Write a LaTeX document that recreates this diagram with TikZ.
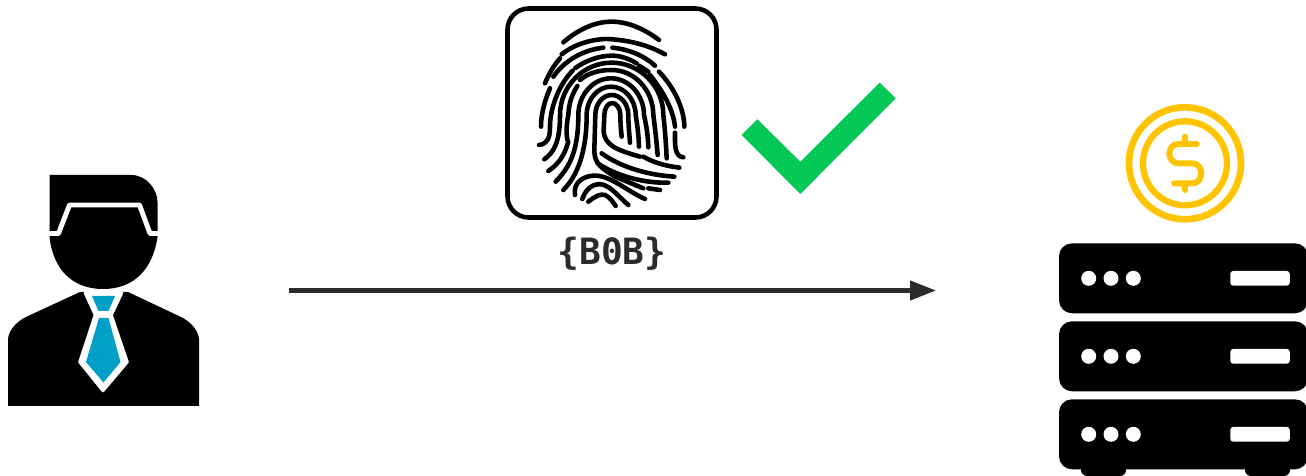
\documentclass[tikz,border=0pt]{standalone}
\usepackage{fontspec}
\setmonofont{DejaVu Sans Mono}
\usetikzlibrary{arrows.meta,positioning}
\definecolor{tieblue}{HTML}{009FC7}
\definecolor{okgreen}{HTML}{02C855}
\definecolor{coingold}{HTML}{FFC300}
\definecolor{inkgrey}{HTML}{2B2B2B}
\begin{document}
\begin{tikzpicture}[x=0.02cm,y=-0.02cm,
  fpbox/.style={draw=black, fill=white, line width=2.6pt, rounded corners=0.42cm, minimum size=4.18cm, inner sep=0pt},
  ridge/.style={draw=black, line width=2.6pt, line cap=round, line join=round},
  rack/.style={fill=black, rounded corners=0.26cm, minimum width=4.98cm, minimum height=1.4cm, inner sep=0pt},
  led/.style={circle, fill=white, minimum size=0.3cm, inner sep=0pt},
  slot/.style={fill=white, rounded corners=0.06cm, minimum width=1.19cm, minimum height=0.295cm, inner sep=0pt},
  ring/.style={draw=coingold, circle, inner sep=0pt},
  flow/.style={draw=inkgrey, line width=2.3pt, -{Triangle[length=14.7pt,width=10.8pt]}},
]
  \useasboundingbox (0,0) rectangle (1306,476);

  % la persona
  \fill (49.5,175) -- (131,175) .. controls (147,175) and (157.5,190) .. (157.5,202)
     -- (157.5,237) .. controls (153,268) and (135,289) .. (103,289)
     .. controls (71,289) and (53,268) .. (49.5,237) -- cycle;
  \draw[white, line width=2.8pt, line join=round] (48,233.5) -- (58.5,233.5) -- (69.5,205) -- (139.5,205) -- (150,233.5) -- (160,233.5);
  \fill (80,292) -- (27,316.5) .. controls (15,322) and (8,332) .. (8,340) -- (8,406) -- (199,406) -- (199,340)
     .. controls (199,332) and (192,322) .. (180,316.5) -- (128,292) -- cycle;
  \fill[white] (85,291) -- (122,291) -- (111.5,315) -- (127.5,362) -- (103,391) -- (79.5,362) -- (95,315) -- cycle;
  \draw[white, line width=1.5pt, line join=round] (85,293) -- (122,293) -- (111.5,315) -- (127.5,362) -- (103,391) -- (79.5,362) -- (95,315) -- cycle;
  \fill[tieblue] (92,296) -- (115,296) -- (108.5,311) -- (98.5,311) -- cycle;
  \fill[tieblue] (99,318) -- (108.5,318) -- (120.5,362) -- (103.5,382.5) -- (86,362) -- cycle;

  % la flecha
  \coordinate (flowstart) at (289,290.5);
  \coordinate (flowend) at (936,290.5);
  \draw[flow] (flowstart) -- (flowend);

  % la huella
  \node[fpbox] (print) at (612,113) {};
  \node[font=\ttfamily\bfseries\fontsize{20.6}{20.6}\selectfont, text=inkgrey, below=0.22cm of print] (owner) {\{B0B\}};
  \begin{scope}[shift={(500,0)},x=0.00667cm,y=-0.00667cm]
    % arcos de arriba
    \draw[ridge] (190,127) .. controls (235,88) and (285,65) .. (335,65) .. controls (385,65) and (435,88) .. (477,120);
    \draw[ridge] (185,163) .. controls (220,135) and (265,120) .. (315,117);
    \draw[ridge] (322,117) .. controls (385,120) and (445,135) .. (495,163);
    \draw[ridge] (135,250) .. controls (145,225) and (160,198) .. (180,175);
    \draw[ridge] (160,230) .. controls (195,180) and (250,150) .. (310,143);
    \draw[ridge] (337,143) .. controls (385,148) and (430,165) .. (465,197);
    \draw[ridge] (477,215) .. controls (525,265) and (553,330) .. (553,380);
    \draw[ridge] (417,197) -- (445,215);
    \draw[ridge] (450,225) .. controls (490,275) and (520,330) .. (525,380);
    \draw[ridge] (525,398) .. controls (525,430) and (522,470) .. (550,472);
    \draw[ridge] (123,380) .. controls (123,340) and (135,300) .. (150,265);
    % los lazos
    \draw[ridge] (117,435) .. controls (145,432) and (150,410) .. (150,380) .. controls (150,320) and (180,250) .. (218,212);
    \draw[ridge] (226,204) .. controls (260,180) and (300,167) .. (335,167) .. controls (360,167) and (385,175) .. (410,190);
    \draw[ridge] (133,478) .. controls (165,455) and (180,420) .. (180,345) .. controls (180,259) and (250,188) .. (335,188)
       .. controls (420,188) and (490,259) .. (490,345) .. controls (495,390) and (498,430) .. (500,475);
    \draw[ridge] (202,420) .. controls (198,395) and (200,370) .. (205,345) .. controls (207,305) and (218,280) .. (232,258);
    \draw[ridge] (145,513) .. controls (180,490) and (195,460) .. (205,425);
    \draw[ridge] (240,240) .. controls (265,218) and (300,210) .. (335,210) .. controls (404,210) and (460,271) .. (460,345)
       .. controls (466,390) and (470,430) .. (473,465);
    \draw[ridge] (167,545) .. controls (205,505) and (235,460) .. (235,345) .. controls (235,285) and (279,235) .. (333,235)
       .. controls (387,235) and (432,285) .. (432,345) .. controls (440,380) and (444,410) .. (445,442);
    \draw[ridge] (190,570) .. controls (235,525) and (260,450) .. (260,345) .. controls (260,298) and (293,260) .. (333,260)
       .. controls (373,260) and (407,298) .. (407,345) .. controls (413,380) and (416,410) .. (417,440);
    \draw[ridge] (390,428) .. controls (388,400) and (385,375) .. (385,345) .. controls (385,312) and (362,285) .. (335,285)
       .. controls (308,285) and (286,312) .. (286,345) -- (283,450) .. controls (282,490) and (305,505) .. (345,530) -- (430,565);
    \draw[ridge] (365,410) .. controls (363,390) and (361,370) .. (361,345) .. controls (361,325) and (350,309) .. (337,309)
       .. controls (324,309) and (313,325) .. (313,345) -- (311,390) .. controls (311,435) and (350,450) .. (420,470);
    % abajo a la derecha
    \draw[ridge] (430,470) .. controls (465,490) and (500,498) .. (538,503);
    \draw[ridge] (305,460) .. controls (360,500) and (440,525) .. (523,530);
    \draw[ridge] (293,490) .. controls (345,525) and (425,550) .. (505,548);
    \draw[ridge] (445,565) -- (480,570);
    % abajo
    \draw[ridge] (225,585) .. controls (218,545) and (255,525) .. (290,527) .. controls (335,530) and (385,575) .. (435,597);
    \draw[ridge] (247,597) .. controls (258,565) and (280,550) .. (305,553) .. controls (335,560) and (355,590) .. (385,615);
    \draw[ridge] (265,605) .. controls (285,590) and (300,580) .. (315,585) .. controls (330,592) and (338,605) .. (347,618);
  \end{scope}

  % la marca
  \fill[okgreen] (741.7,135) -- (757.3,119.3) -- (800.3,161.7) -- (879.7,82.7) -- (895.7,98.3) -- (800.3,194) -- cycle;

  % la moneda
  \node[ring, line width=3.8pt, minimum size=2.24cm] (coin) at (1185,163.3) {};
  \node[ring, line width=3.6pt, minimum size=1.68cm, at=(coin)] (coinin) {};
  \begin{scope}[shift={(1050,95)},x=0.00667cm,y=-0.00667cm]
    \draw[coingold, line width=3.4pt, line cap=round] (440,147) -- (385,147) .. controls (367,147) and (358,162) .. (358,176)
       .. controls (358,192) and (370,205) .. (385,205) -- (427,205) .. controls (443,205) and (454,219) .. (454,235)
       .. controls (454,251) and (443,265) .. (427,265) -- (372,265);
    \draw[coingold, line width=3.4pt, line cap=round] (405,125) -- (405,147) (405,265) -- (405,285);
  \end{scope}

  % el servidor
  \fill (1081,465) -- (1126,465) -- (1126,470) arc[start angle=0,end angle=90,radius=6] -- (1087,476) arc[start angle=90,end angle=180,radius=6] -- cycle;
  \fill (1245,465) -- (1290,465) -- (1290,470) arc[start angle=0,end angle=90,radius=6] -- (1251,476) arc[start angle=90,end angle=180,radius=6] -- cycle;
  \foreach \row/\ypos in {1/278.3,2/356.3,3/434.3} {
    \node[rack] (rack\row) at (1183.5,\ypos) {};
    \foreach \col/\xpos in {1/1088.7,2/1111,3/1133.3}
      \node[led] (led\row\col) at (\xpos,\ypos) {};
    \node[slot] (slot\row) at (1260,\ypos) {};
  }
\end{tikzpicture}
\end{document}
